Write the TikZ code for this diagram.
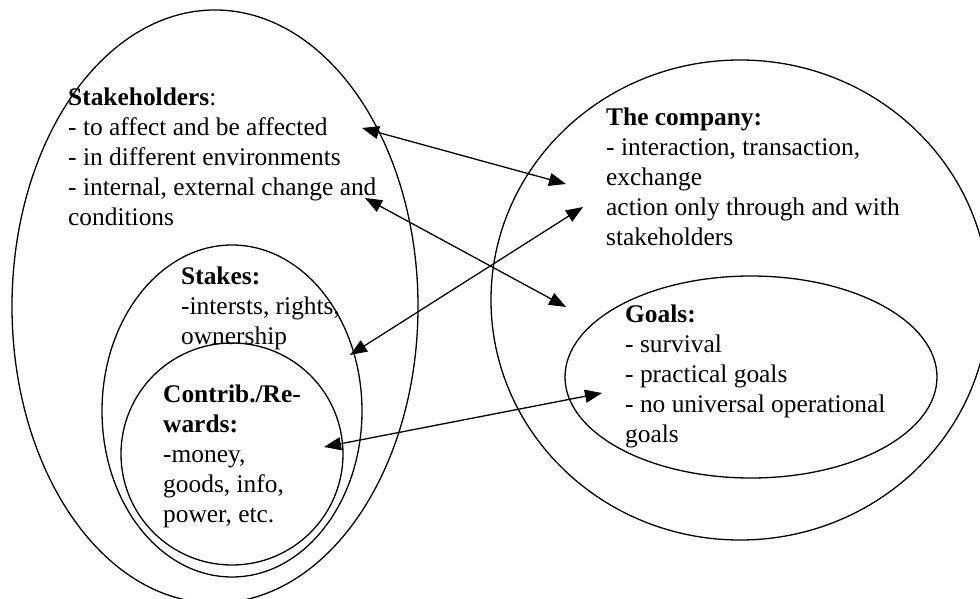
\documentclass[tikz,border=0pt]{standalone}
\usepackage{fontspec}
\setmainfont{Liberation Serif}
\usetikzlibrary{arrows.meta}
\begin{document}
\begin{tikzpicture}[x=1pt,y=-1pt,
  ring/.style={draw=black,line width=1.3pt},
  blocktext/.style={anchor=north west,inner sep=0pt,align=left,
    font=\fontsize{25.4}{30}\selectfont},
  twoway/.style={line width=1.3pt,
    {Triangle[length=17pt,width=13pt]}-{Triangle[length=17pt,width=13pt]}}]
\useasboundingbox (0,0) rectangle (980,599);
\clip (0,0) rectangle (980,599);

% stakeholder side: nested regions
\draw[ring] (215,306.5) ellipse [x radius=203, y radius=296.5];
\draw[ring] (232,411) ellipse [x radius=130, y radius=166];
\draw[ring] (232,454) circle [radius=111];

% company side
\draw[ring] (740,300) ellipse [x radius=249, y radius=240];
\draw[ring] (751,377) ellipse [x radius=186, y radius=101];

% texts (first baseline = top + 21)
\node[blocktext] (stakeholders) at (68,84) {\strut\textbf{Stakeholders}:\\
  - to affect and be affected\\
  - in different environments\\
  - internal, external change and\\
  conditions};
\node[blocktext] (stakes) at (181,263) {\strut\textbf{Stakes:}\\
  -intersts, rights,\\
  ownership};
\node[blocktext] (contrib) at (163,381) {\strut\textbf{Contrib./Re-}\\
  \textbf{wards:}\\
  -money,\\
  goods, info,\\
  power, etc.};
\node[blocktext] (company) at (606,104) {\strut\textbf{The company:}\\
  - interaction, transaction,\\
  exchange\\
  action only through and with\\
  stakeholders};
\node[blocktext] (goals) at (625,301) {\strut\textbf{Goals:}\\
  - survival\\
  - practical goals\\
  - no universal operational\\
  goals};

% connector end points
\coordinate (affectEnd) at (362,128);
\coordinate (companyIn) at (566,184);
\coordinate (changeEnd) at (365,198);
\coordinate (goalsIn) at (566,307);
\coordinate (stakesEnd) at (350,355);
\coordinate (companyAct) at (583,207);
\coordinate (rewardsEnd) at (324,447);
\coordinate (goalsPract) at (602,393);

\draw[twoway] (affectEnd) -- (companyIn);
\draw[twoway] (changeEnd) -- (goalsIn);
\draw[twoway] (stakesEnd) -- (companyAct);
\draw[twoway] (rewardsEnd) -- (goalsPract);
\end{tikzpicture}
\end{document}
